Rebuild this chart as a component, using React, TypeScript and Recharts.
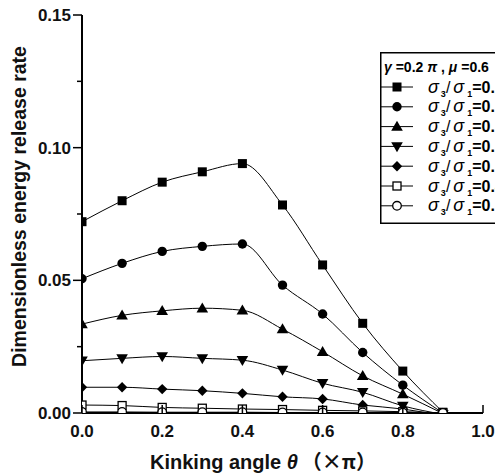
import React from 'react';
import { LineChart, Line, XAxis, YAxis, Legend, Label } from 'recharts';

const thetas = [0, 0.1, 0.2, 0.3, 0.4, 0.5, 0.6, 0.7, 0.8, 0.9];
const s1 = [0.0721, 0.0800, 0.0870, 0.0909, 0.0940, 0.0784, 0.0558, 0.0338, 0.0158, 0.0003];
const s2 = [0.0506, 0.0564, 0.0609, 0.0628, 0.0637, 0.0482, 0.0373, 0.0228, 0.0105, 0.0000];
const s3 = [0.0335, 0.0368, 0.0385, 0.0395, 0.0387, 0.0316, 0.0231, 0.0140, 0.0071, -0.0002];
const s4 = [0.0197, 0.0206, 0.0213, 0.0206, 0.0199, 0.0162, 0.0112, 0.0078, 0.0027, -0.0005];
const s5 = [0.0097, 0.0097, 0.0090, 0.0084, 0.0074, 0.0061, 0.0053, 0.0030, 0.0015, -0.0010];
const s6 = [0.0030, 0.0028, 0.0021, 0.0018, 0.0015, 0.0013, 0.0010, 0.0008, 0.0005, 0.0000];
const s7 = [0.0004, 0.0004, 0.0003, 0.0003, 0.0003, 0.0002, 0.0002, 0.0002, 0.0001, 0.0000];

const ratioLabels = ['0.0', '0.05', '0.1', '0.2', '0.3', '0.4', '0.5'];
const xTicks = [0, 0.2, 0.4, 0.6, 0.8, 1.0];
const yTicks = [0, 0.025, 0.05, 0.075, 0.1, 0.125, 0.15];
const yMajor = [0, 0.05, 0.1, 0.15];

const seriesKeys = ['s1', 's2', 's3', 's4', 's5', 's6', 's7'];
const seriesValues = [s1, s2, s3, s4, s5, s6, s7];
const shapes = ['square', 'circle', 'triangle', 'triangleDown', 'diamond', 'openSquare', 'openCircle'];

const data = thetas.map((t, i) => {
  const row: any = { theta: t };
  seriesKeys.forEach((k, j) => {
    row[k] = seriesValues[j][i];
  });
  return row;
});

const FONT = '"Liberation Sans", Arial, sans-serif';
const CJK = '"Noto Sans CJK JP", "Liberation Sans", sans-serif';

function Marker({ shape, cx, cy }: { shape: string; cx: number; cy: number }) {
  switch (shape) {
    case 'square':
      return <rect x={cx - 4.5} y={cy - 4.5} width={9} height={9} fill="#000" />;
    case 'circle':
      return <circle cx={cx} cy={cy} r={4.7} fill="#000" />;
    case 'triangle':
      return <polygon points={`${cx},${cy - 5.8} ${cx + 5.8},${cy + 4.2} ${cx - 5.8},${cy + 4.2}`} fill="#000" />;
    case 'triangleDown':
      return <polygon points={`${cx - 5.8},${cy - 4.2} ${cx + 5.8},${cy - 4.2} ${cx},${cy + 5.8}`} fill="#000" />;
    case 'diamond':
      return <polygon points={`${cx},${cy - 5.2} ${cx + 5.2},${cy} ${cx},${cy + 5.2} ${cx - 5.2},${cy}`} fill="#000" />;
    case 'openSquare':
      return <rect x={cx - 4} y={cy - 4} width={8} height={8} fill="#fff" stroke="#000" strokeWidth={1.3} />;
    case 'openCircle':
    default:
      return <circle cx={cx} cy={cy} r={4.3} fill="#fff" stroke="#000" strokeWidth={1.3} />;
  }
}

const makeDot = (shape: string, key: string) => (props: any) => {
  const { cx, cy, index } = props;
  if (cx == null || cy == null) return <g key={`${key}-${index}`} />;
  return (
    <g key={`${key}-${index}`}>
      <Marker shape={shape} cx={cx} cy={cy} />
    </g>
  );
};

const XTick = (props: any) => {
  const { x, y, payload } = props;
  const axisY = y - 12;
  return (
    <g>
      <line x1={x} x2={x} y1={axisY} y2={axisY - 8} stroke="#000" strokeWidth={1.5} />
      <text x={x} y={y + 12} textAnchor="middle" fontSize={17} fontWeight="bold" fontFamily={FONT} fill="#111">
        {Number(payload.value).toFixed(1)}
      </text>
    </g>
  );
};

const YTick = (props: any) => {
  const { x, y, payload } = props;
  const axisX = x + 11;
  const v = payload.value;
  const isMajor = yMajor.some((m) => Math.abs(m - v) < 1e-9);
  return (
    <g>
      <line x1={axisX} x2={axisX - (isMajor ? 9 : 5)} y1={y} y2={y} stroke="#000" strokeWidth={1.5} />
      {isMajor && (
        <text x={x} y={y + 6} textAnchor="end" fontSize={17} fontWeight="bold" fontFamily={FONT} fill="#111">
          {Number(v).toFixed(2)}
        </text>
      )}
    </g>
  );
};

const LegendBox = () => (
  <svg width={115} height={175} style={{ display: 'block' }}>
    <rect x={0.75} y={0.75} width={200} height={170.5} fill="#fff" stroke="#000" strokeWidth={1.5} />
    <text x={4} y={20} fontSize={14} fontWeight="bold" fontFamily={FONT} fill="#000">
      <tspan fontStyle="italic">γ</tspan>
      <tspan> =0.2 </tspan>
      <tspan fontStyle="italic">π</tspan>
      <tspan> , </tspan>
      <tspan fontStyle="italic">μ</tspan>
      <tspan> =0.6</tspan>
    </text>
    {shapes.map((shape, i) => {
      const cy = 35 + i * 19.8;
      return (
        <g key={shape}>
          <line x1={1} x2={33} y1={cy} y2={cy} stroke="#000" strokeWidth={1} />
          <Marker shape={shape} cx={17} cy={cy} />
          <text x={48} y={cy + 5.5} fontSize={16} fontFamily={FONT} fill="#000">
            <tspan fontStyle="italic" fontSize={18}>σ</tspan>
            <tspan fontSize={9} fontWeight="bold" dy={4} dx={2}>3</tspan>
            <tspan dy={-4} dx={0}>/</tspan>
            <tspan fontStyle="italic" fontSize={18} dx={3}>σ</tspan>
            <tspan fontSize={9} fontWeight="bold" dy={4} dx={3}>1</tspan>
            <tspan dy={-4} fontWeight="bold">{'=' + ratioLabels[i]}</tspan>
          </text>
        </g>
      );
    })}
  </svg>
);

export default function App() {
  return (
    <div style={{ position: 'absolute', left: 0, top: 0, width: 495, height: 473, background: '#fff' }}>
      <LineChart width={495} height={473} data={data} margin={{ top: 15, right: 12, bottom: 15, left: 22 }}>
        <XAxis
          dataKey="theta"
          type="number"
          domain={[0, 1]}
          ticks={xTicks}
          allowDataOverflow
          height={45}
          tickSize={8}
          tickMargin={4}
          tickLine={false}
          tick={<XTick />}
          axisLine={{ stroke: '#000', strokeWidth: 2 }}
        >
          <Label
            content={() => (
              <text x={263} y={469} textAnchor="middle" fontSize={20} fontWeight="bold" fontFamily={FONT} fill="#111">
                Kinking angle <tspan fontStyle="italic">θ</tspan>
                <tspan fontFamily={CJK} dx={4}>（×π）</tspan>
              </text>
            )}
          />
        </XAxis>
        <YAxis
          type="number"
          domain={[0, 0.15]}
          ticks={yTicks}
          allowDataOverflow
          width={60}
          tickSize={9}
          tickMargin={2}
          tickLine={false}
          tick={<YTick />}
          interval={0}
          axisLine={{ stroke: '#000', strokeWidth: 2 }}
        >
          <Label
            content={() => (
              <text
                x={26}
                y={206.5}
                textAnchor="middle"
                fontSize={19.5}
                fontWeight="bold"
                fontFamily={FONT}
                fill="#111"
                transform="rotate(-90, 26, 206.5)"
              >
                Dimensionless energy release rate
              </text>
            )}
          />
        </YAxis>
        <Legend
          layout="vertical"
          align="center"
          verticalAlign="middle"
          content={() => <LegendBox />}
          wrapperStyle={{ left: 380, top: 52, width: 115, height: 175 }}
        />
        {seriesKeys.map((k, j) => (
          <Line
            key={k}
            dataKey={k}
            type="monotone"
            stroke="#000"
            strokeWidth={1}
            dot={makeDot(shapes[j], k)}
            activeDot={false}
            isAnimationActive={false}
            legendType="none"
          />
        ))}
      </LineChart>
    </div>
  );
}
